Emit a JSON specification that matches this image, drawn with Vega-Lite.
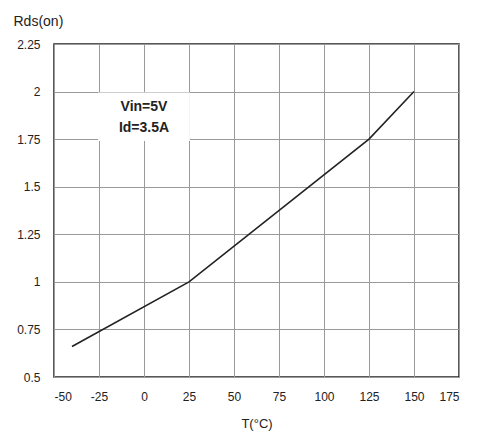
{
  "$schema": "https://vega.github.io/schema/vega-lite/v6.json",
  "width": 405,
  "height": 333,
  "autosize": "none",
  "padding": {"left": 54, "top": 44, "right": 19, "bottom": 55},
  "background": "white",
  "config": {
    "view": {"stroke": "#222222", "strokeWidth": 1.5},
    "font": "Liberation Sans",
    "axis": {
      "domain": false,
      "ticks": false,
      "grid": true,
      "gridColor": "#9a9a9a",
      "gridWidth": 1,
      "gridOpacity": 1,
      "labelFont": "Liberation Sans",
      "labelFontSize": 12,
      "labelColor": "#222222",
      "titleFont": "Liberation Sans",
      "titleFontWeight": "normal",
      "titleColor": "#222222"
    }
  },
  "datasets": {
    "curve": [
      {"T": -40, "R": 0.66},
      {"T": 25, "R": 1.0},
      {"T": 125, "R": 1.75},
      {"T": 150, "R": 2.0}
    ],
    "box": [{"x1": -25.5, "x2": 25.5, "y1": 1.74, "y2": 1.995}],
    "notes": [
      {"T": 0, "R": 1.919, "label": "Vin=5V"},
      {"T": 0, "R": 1.809, "label": "Id=3.5A"}
    ]
  },
  "layer": [
    {
      "data": {"name": "box"},
      "mark": {"type": "rect", "fill": "white", "stroke": null},
      "encoding": {
        "x": {
          "field": "x1", "type": "quantitative",
          "scale": {"domain": [-50, 175], "nice": false, "zero": false},
          "axis": {
            "values": [-50, -25, 0, 25, 50, 75, 100, 125, 150, 175],
            "labelExpr": "'' + datum.value",
            "labelPadding": 14,
            "labelFontSize": 12,
            "title": "T(°C)",
            "titleFontSize": 13,
            "titleBaseline": "middle",
            "titleY": 46
          }
        },
        "x2": {"field": "x2"},
        "y": {
          "field": "y1", "type": "quantitative",
          "scale": {"domain": [0.5, 2.25], "nice": false, "zero": false},
          "axis": {
            "values": [0.5, 0.75, 1, 1.25, 1.5, 1.75, 2, 2.25],
            "labelExpr": "'' + datum.value",
            "labelPadding": 14,
            "title": "Rds(on)",
            "titleAngle": 0,
            "titleAlign": "left",
            "titleBaseline": "middle",
            "titleFontSize": 14,
            "titleX": -41,
            "titleY": -23
          }
        },
        "y2": {"field": "y2"}
      }
    },
    {
      "data": {"name": "curve"},
      "mark": {"type": "line", "color": "#222222", "strokeWidth": 1.6},
      "encoding": {
        "x": {"field": "T", "type": "quantitative"},
        "y": {"field": "R", "type": "quantitative"}
      }
    },
    {
      "data": {"name": "notes"},
      "mark": {"type": "text", "fontWeight": "bold", "fontSize": 14, "color": "#222222", "align": "center", "baseline": "middle", "font": "Liberation Sans"},
      "encoding": {
        "x": {"field": "T", "type": "quantitative"},
        "y": {"field": "R", "type": "quantitative"},
        "text": {"field": "label"}
      }
    }
  ]
}
